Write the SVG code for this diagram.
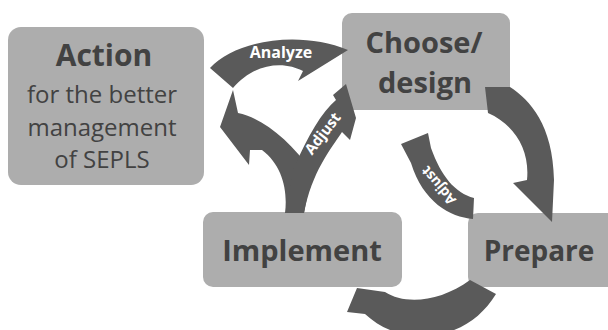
<svg xmlns="http://www.w3.org/2000/svg" width="608" height="330" viewBox="0 0 608 330">
<style>
.box{fill:#adadad}
.t{font-family:"Open Sans","Liberation Sans",sans-serif;fill:#424242;text-anchor:middle}
.b{font-weight:bold}
.arr{fill:#5a5a5a}
.lbl{font-family:"Open Sans","Liberation Sans",sans-serif;font-weight:bold;fill:#ffffff;text-anchor:middle;dominant-baseline:central}
</style>
<rect width="608" height="330" fill="#ffffff"/>
<g id="action">
<rect class="box" x="8" y="27" width="196" height="158" rx="13"/>
<text class="t b" x="104" y="66" font-size="30">Action</text>
<text class="t" x="102" y="103" font-size="24">for the better</text>
<text class="t" x="102" y="136" font-size="24">management</text>
<text class="t" x="102" y="168" font-size="24">of SEPLS</text>
</g>
<g id="choose">
<rect class="box" x="342" y="13" width="168" height="97" rx="10"/>
<text class="t b" x="424" y="53" font-size="29">Choose/</text>
<text class="t b" x="425" y="93" font-size="29">design</text>
</g>
<g id="implement">
<rect class="box" x="203" y="212" width="199" height="75" rx="10"/>
<text class="t b" x="302" y="261" font-size="29">Implement</text>
</g>
<g id="prepare">
<rect class="box" x="468" y="213" width="160" height="74" rx="10"/>
<text class="t b" x="539" y="261" font-size="28">Prepare</text>
</g>
<g id="connectors">
<path class="arr" d="M210,68 C235,40 300,30 348,50 L298,81 L303,71 C285,61 255,62 233,88 Z"/>
<text class="lbl" x="281" y="52" font-size="16">Analyze</text>
<path class="arr" d="M233,90 L238,113 C262,118 290,140 312,172 L304,213 L285,213 C288,190 282,165 262,150 L250,150 L249,165 L220,127 Z"/>
<path class="arr" d="M294,168 C308,135 322,112 336,100 L333,95 L346,84 L356,118 L350,140 L342,132 C330,150 312,172 304,213 L286,213 Z"/>
<text class="lbl" x="322" y="133" font-size="15" transform="rotate(-52 322 133)">Adjust</text>
<path class="arr" d="M485,87 L510,87 C530,100 553,125 554,180 L552,222 L513,183 L527,180 C530,150 515,125 488,113 Z"/>
<path class="arr" d="M474,198 L473,219 C450,217 423,202 411,163 L401,144 L428,133 L431,148 C441,176 455,193 474,198 Z"/>
<text class="lbl" x="438" y="186" font-size="14" transform="rotate(230 438 186)">Adjust</text>
<path class="arr" d="M470,280 L496,294 C480,320 455,336 420,336 C400,336 380,328 365,314 L347,312 L357,288 L385,292 C405,305 440,302 470,280 Z"/>
</g>
</svg>
